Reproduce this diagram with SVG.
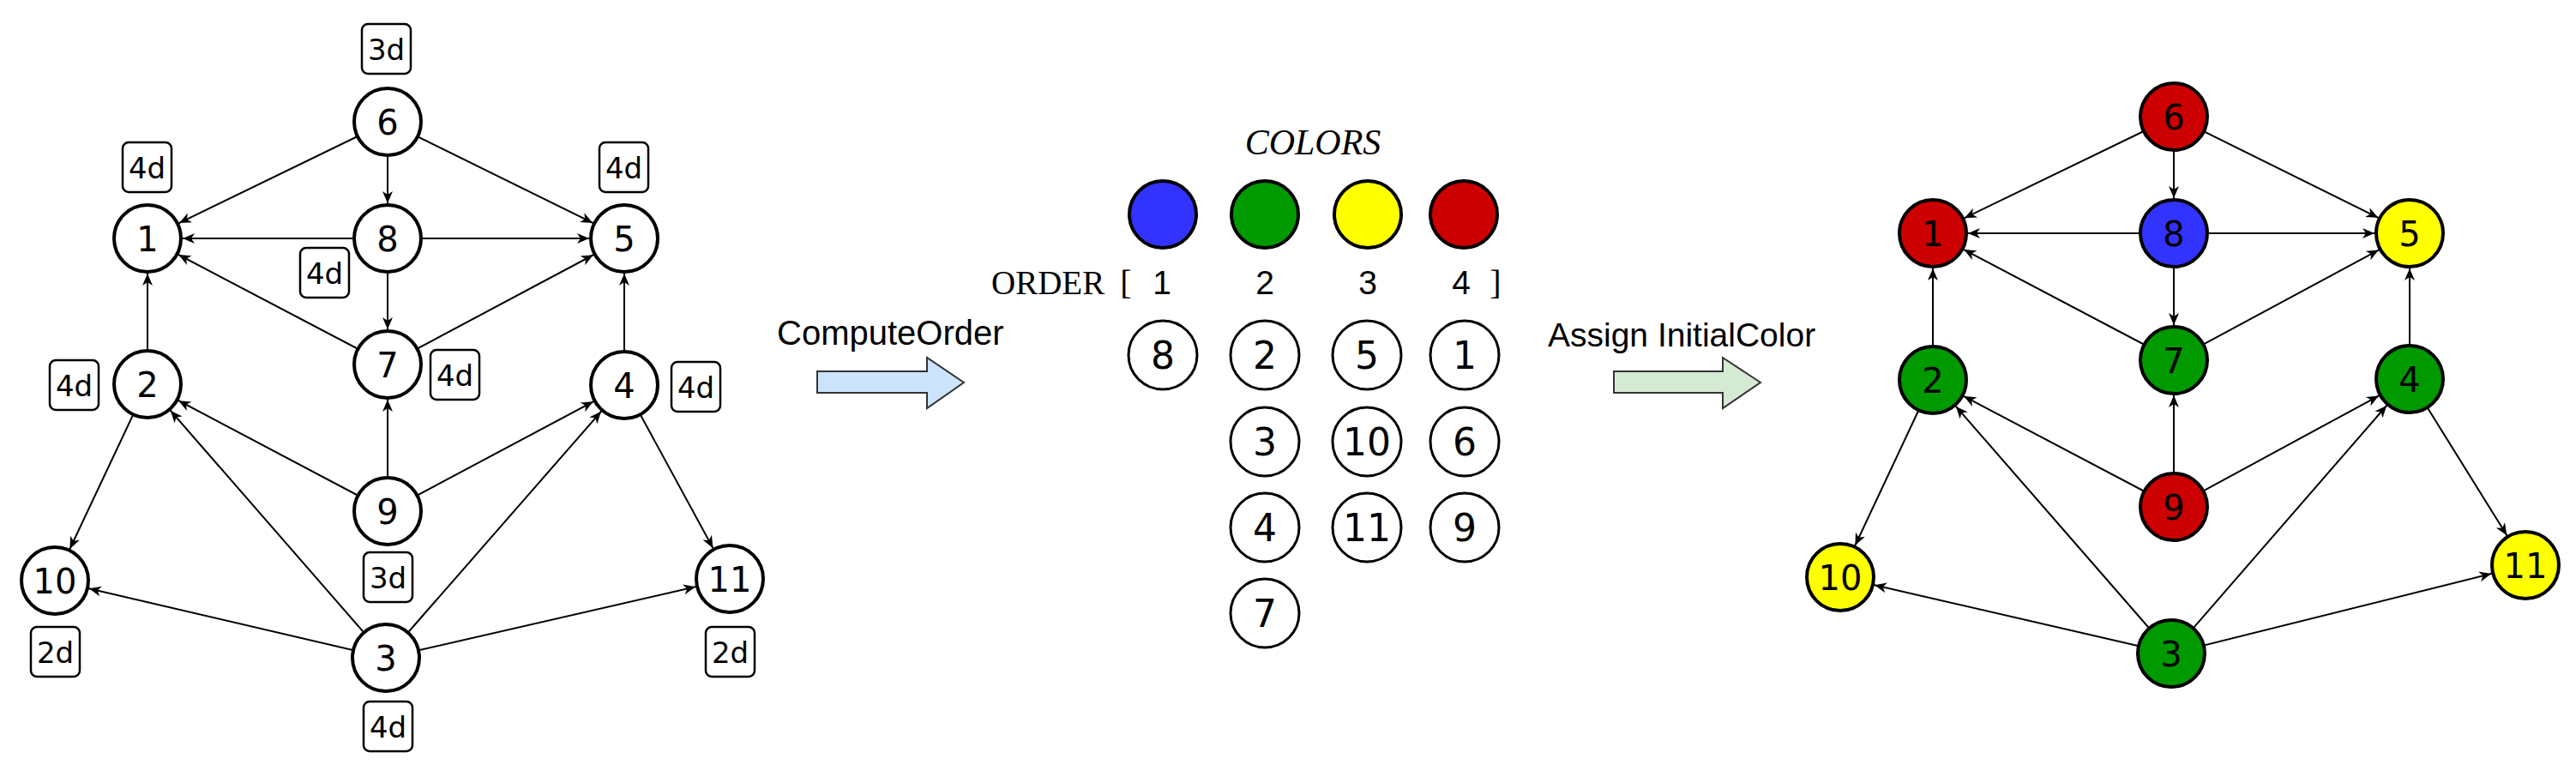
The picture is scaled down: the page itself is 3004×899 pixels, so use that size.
<svg xmlns="http://www.w3.org/2000/svg" width="3004" height="899" viewBox="0 0 3004 899">
<style>
.bg{fill:#fff}
.node circle{fill:#fff;stroke:#000;stroke-width:4}
.node text,.mid text.d{font-family:"DejaVu Sans",sans-serif;font-size:40px;text-anchor:middle;fill:#000}
.lab rect{fill:#fff;stroke:#000;stroke-width:2.5}
.lab text{font-family:"DejaVu Sans",sans-serif;font-size:34px;text-anchor:middle;fill:#000}
.edge line{stroke:#000;stroke-width:2;marker-end:url(#arr)}
.red{fill:#cc0000 !important}
.blue{fill:#3333ff !important}
.green{fill:#009900 !important}
.yellow{fill:#ffff00 !important}
.mc circle{fill:#fff;stroke:#000;stroke-width:3}
.mc text{font-family:"DejaVu Sans",sans-serif;font-size:44px;text-anchor:middle;fill:#000}
.serif{font-family:"Liberation Serif","Times New Roman",serif;fill:#000}
.sans{font-family:"Liberation Sans",Arial,sans-serif;fill:#000}
.barrow{stroke:#333;stroke-width:2}
</style>
<defs>
<marker id="arr" markerUnits="userSpaceOnUse" markerWidth="14" markerHeight="12" refX="55" refY="6" orient="auto" overflow="visible">
<path d="M0,0 L14,6 L0,12 L4,6 Z" fill="#000"/>
</marker>
</defs>
<rect class="bg" x="0" y="0" width="3004" height="899"/>

<!-- LEFT GRAPH -->
<g id="left-connectors" class="edge">
<line x1="452" y1="142" x2="172" y2="278"/>
<line x1="452" y1="142" x2="452" y2="278"/>
<line x1="452" y1="142" x2="728" y2="278"/>
<line x1="452" y1="278" x2="172" y2="278"/>
<line x1="452" y1="278" x2="728" y2="278"/>
<line x1="452" y1="278" x2="452" y2="425"/>
<line x1="452" y1="425" x2="172" y2="278"/>
<line x1="452" y1="425" x2="728" y2="278"/>
<line x1="172" y1="448" x2="172" y2="278"/>
<line x1="728" y1="449" x2="728" y2="278"/>
<line x1="452" y1="596" x2="452" y2="425"/>
<line x1="452" y1="596" x2="172" y2="448"/>
<line x1="452" y1="596" x2="728" y2="449"/>
<line x1="450" y1="767" x2="172" y2="448"/>
<line x1="450" y1="767" x2="728" y2="449"/>
<line x1="450" y1="767" x2="64" y2="677"/>
<line x1="450" y1="767" x2="851" y2="675"/>
<line x1="172" y1="448" x2="64" y2="677"/>
<line x1="728" y1="449" x2="851" y2="675"/>
</g>

<g id="L-n6" class="node"><circle cx="452" cy="142" r="39"/><text x="452" y="157">6</text>
<g class="lab"><rect x="422" y="28" width="57" height="58" rx="7"/><text x="450.5" y="69.5">3d</text></g></g>
<g id="L-n1" class="node"><circle cx="172" cy="278" r="39"/><text x="172" y="293">1</text>
<g class="lab"><rect x="143" y="166" width="57" height="58" rx="7"/><text x="171.5" y="207.5">4d</text></g></g>
<g id="L-n8" class="node"><circle cx="452" cy="278" r="39"/><text x="452" y="293">8</text>
<g class="lab"><rect x="350" y="289" width="57" height="58" rx="7"/><text x="378.5" y="330.5">4d</text></g></g>
<g id="L-n5" class="node"><circle cx="728" cy="278" r="39"/><text x="728" y="293">5</text>
<g class="lab"><rect x="699" y="166" width="57" height="58" rx="7"/><text x="727.5" y="207.5">4d</text></g></g>
<g id="L-n7" class="node"><circle cx="452" cy="425" r="39"/><text x="452" y="440">7</text>
<g class="lab"><rect x="502" y="408" width="57" height="58" rx="7"/><text x="530.5" y="449.5">4d</text></g></g>
<g id="L-n2" class="node"><circle cx="172" cy="448" r="39"/><text x="172" y="463">2</text>
<g class="lab"><rect x="58" y="420" width="57" height="58" rx="7"/><text x="86.5" y="461.5">4d</text></g></g>
<g id="L-n4" class="node"><circle cx="728" cy="449" r="39"/><text x="728" y="464">4</text>
<g class="lab"><rect x="783" y="422" width="57" height="58" rx="7"/><text x="811.5" y="463.5">4d</text></g></g>
<g id="L-n9" class="node"><circle cx="452" cy="596" r="39"/><text x="452" y="611">9</text>
<g class="lab"><rect x="424" y="644" width="57" height="58" rx="7"/><text x="452.5" y="685.5">3d</text></g></g>
<g id="L-n10" class="node"><circle cx="64" cy="677" r="39"/><text x="64" y="692">10</text>
<g class="lab"><rect x="36" y="731" width="57" height="58" rx="7"/><text x="64.5" y="772.5">2d</text></g></g>
<g id="L-n11" class="node"><circle cx="851" cy="675" r="39"/><text x="851" y="690">11</text>
<g class="lab"><rect x="823" y="731" width="57" height="58" rx="7"/><text x="851.5" y="772.5">2d</text></g></g>
<g id="L-n3" class="node"><circle cx="450" cy="767" r="39"/><text x="450" y="782">3</text>
<g class="lab"><rect x="424" y="818" width="57" height="58" rx="7"/><text x="452.5" y="859.5">4d</text></g></g>

<!-- COMPUTE ORDER ARROW -->
<g id="compute-order">
<text class="sans" x="906" y="402" font-size="40">ComputeOrder</text>
<polygon class="barrow" fill="#cce4fb" points="953,433 1081,433 1081,417 1124,446 1081,476 1081,458 953,458"/>
</g>

<!-- MIDDLE -->
<g id="colors">
<text class="serif" x="1531" y="180" font-size="42" font-style="italic" text-anchor="middle">COLORS</text>
<g class="node"><circle class="blue" cx="1356" cy="250" r="39"/></g>
<g class="node"><circle class="green" cx="1475" cy="250" r="39"/></g>
<g class="node"><circle class="yellow" cx="1595" cy="250" r="39"/></g>
<g class="node"><circle class="red" cx="1707" cy="250" r="39"/></g>
</g>
<g id="order-header">
<text class="serif" x="1156" y="343" font-size="39">ORDER</text>
<text class="serif" x="1313" y="343" font-size="40" text-anchor="middle">[</text>
<text class="sans" x="1355" y="343" font-size="39" text-anchor="middle">1</text>
<text class="sans" x="1475" y="343" font-size="39" text-anchor="middle">2</text>
<text class="sans" x="1595" y="343" font-size="39" text-anchor="middle">3</text>
<text class="sans" x="1704" y="343" font-size="39" text-anchor="middle">4</text>
<text class="serif" x="1744" y="343" font-size="40" text-anchor="middle">]</text>
</g>
<g id="order-col1" class="mc">
<circle cx="1356" cy="414" r="40"/><text x="1356" y="430">8</text>
</g>
<g id="order-col2" class="mc">
<circle cx="1475" cy="414" r="40"/><text x="1475" y="430">2</text>
<circle cx="1475" cy="515" r="40"/><text x="1475" y="531">3</text>
<circle cx="1475" cy="615" r="40"/><text x="1475" y="631">4</text>
<circle cx="1475" cy="715" r="40"/><text x="1475" y="731">7</text>
</g>
<g id="order-col3" class="mc">
<circle cx="1594" cy="414" r="40"/><text x="1594" y="430">5</text>
<circle cx="1594" cy="515" r="40"/><text x="1594" y="531">10</text>
<circle cx="1594" cy="615" r="40"/><text x="1594" y="631">11</text>
</g>
<g id="order-col4" class="mc">
<circle cx="1708" cy="414" r="40"/><text x="1708" y="430">1</text>
<circle cx="1708" cy="515" r="40"/><text x="1708" y="531">6</text>
<circle cx="1708" cy="615" r="40"/><text x="1708" y="631">9</text>
</g>

<!-- ASSIGN ARROW -->
<g id="assign-initial-color">
<text class="sans" x="1805" y="404" font-size="39">Assign InitialColor</text>
<polygon class="barrow" fill="#d5ead3" points="1882,433 2009,433 2009,417 2053,446 2009,476 2009,458 1882,458"/>
</g>

<!-- RIGHT GRAPH -->
<g id="right-connectors" class="edge">
<line x1="2535" y1="136" x2="2254" y2="272"/>
<line x1="2535" y1="136" x2="2535" y2="272"/>
<line x1="2535" y1="136" x2="2810" y2="272"/>
<line x1="2535" y1="272" x2="2254" y2="272"/>
<line x1="2535" y1="272" x2="2810" y2="272"/>
<line x1="2535" y1="272" x2="2535" y2="420"/>
<line x1="2535" y1="420" x2="2254" y2="272"/>
<line x1="2535" y1="420" x2="2810" y2="272"/>
<line x1="2254" y1="443" x2="2254" y2="272"/>
<line x1="2810" y1="442" x2="2810" y2="272"/>
<line x1="2535" y1="591" x2="2535" y2="420"/>
<line x1="2535" y1="591" x2="2254" y2="443"/>
<line x1="2535" y1="591" x2="2810" y2="442"/>
<line x1="2532" y1="762" x2="2254" y2="443"/>
<line x1="2532" y1="762" x2="2810" y2="442"/>
<line x1="2532" y1="762" x2="2146" y2="673"/>
<line x1="2532" y1="762" x2="2945" y2="659"/>
<line x1="2254" y1="443" x2="2146" y2="673"/>
<line x1="2810" y1="442" x2="2945" y2="659"/>
</g>
<g id="R-n6" class="node"><circle class="red" cx="2535" cy="136" r="39"/><text x="2535" y="151">6</text></g>
<g id="R-n1" class="node"><circle class="red" cx="2254" cy="272" r="39"/><text x="2254" y="287">1</text></g>
<g id="R-n8" class="node"><circle class="blue" cx="2535" cy="272" r="39"/><text x="2535" y="287">8</text></g>
<g id="R-n5" class="node"><circle class="yellow" cx="2810" cy="272" r="39"/><text x="2810" y="287">5</text></g>
<g id="R-n7" class="node"><circle class="green" cx="2535" cy="420" r="39"/><text x="2535" y="435">7</text></g>
<g id="R-n2" class="node"><circle class="green" cx="2254" cy="443" r="39"/><text x="2254" y="458">2</text></g>
<g id="R-n4" class="node"><circle class="green" cx="2810" cy="442" r="39"/><text x="2810" y="457">4</text></g>
<g id="R-n9" class="node"><circle class="red" cx="2535" cy="591" r="39"/><text x="2535" y="606">9</text></g>
<g id="R-n10" class="node"><circle class="yellow" cx="2146" cy="673" r="39"/><text x="2146" y="688">10</text></g>
<g id="R-n11" class="node"><circle class="yellow" cx="2945" cy="659" r="39"/><text x="2945" y="674">11</text></g>
<g id="R-n3" class="node"><circle class="green" cx="2532" cy="762" r="39"/><text x="2532" y="777">3</text></g>
</svg>
